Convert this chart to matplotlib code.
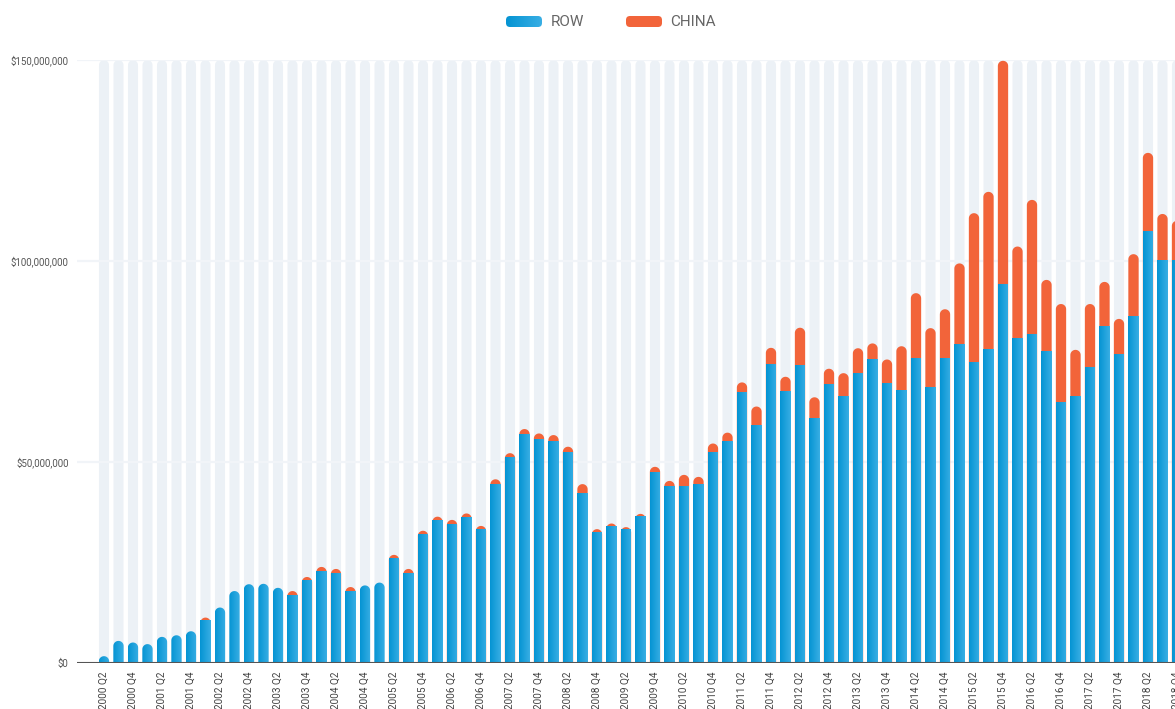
import numpy as np
import matplotlib
matplotlib.use("Agg")
import matplotlib.pyplot as plt
from matplotlib.patches import Polygon, FancyBboxPatch
from matplotlib.ticker import FuncFormatter

# quarterly values, millions of dollars
YEARS = list(range(2000, 2019))
QUARTERS = [f"{y} Q{q}" for y in YEARS for q in (1, 2, 3, 4)][1:]   # starts 2000 Q2

ROW_M = [1.7, 5.5, 5.1, 4.7, 6.5, 6.9, 7.9, 10.7, 13.8, 17.9,
         19.6, 19.7, 18.7, 16.9, 20.6, 22.9, 22.4, 17.9, 19.3, 20.0,
         26.1, 22.4, 32.1, 35.6, 34.6, 36.2, 33.3, 44.5, 51.2, 57.0,
         55.6, 55.1, 52.5, 42.2, 32.5, 34.2, 33.3, 36.6, 47.5, 44.0,
         44.0, 44.5, 52.5, 55.2, 67.5, 59.2, 74.5, 67.7, 74.1, 61.0,
         69.5, 66.4, 72.1, 75.6, 69.7, 67.9, 75.9, 68.7, 75.9, 79.4,
         74.9, 78.0, 94.3, 80.8, 81.8, 77.5, 64.9, 66.4, 73.6, 83.8,
         76.9, 86.3, 107.4, 100.2, 100.2]
CHINA_M = [0, 0, 0, 0, 0, 0, 0, 0.6, 0, 0,
           0, 0, 0, 1.0, 0.8, 1.0, 1.0, 1.0, 0, 0,
           0.8, 1.0, 0.8, 0.8, 1.0, 1.0, 0.8, 1.2, 1.0, 1.2,
           1.5, 1.6, 1.3, 2.3, 0.8, 0.5, 0.5, 0.5, 1.3, 1.3,
           2.8, 1.8, 2.1, 2.1, 2.3, 4.6, 3.9, 3.5, 9.3, 5.1,
           3.7, 5.7, 6.2, 3.9, 5.8, 10.9, 16.1, 14.6, 12.1, 20.0,
           37.0, 39.2, 55.5, 22.8, 33.4, 17.8, 24.4, 11.5, 15.7, 11.0,
           8.7, 15.4, 19.5, 11.5, 9.8]

Y_TICKS = [0, 50, 100, 150]

BLUE_L = np.array([0x05, 0x94, 0xd3]) / 255
BLUE_R = np.array([0x38, 0xae, 0xe4]) / 255
ORANGE = "#f2643a"
STRIPE = "#ecf1f6"

plt.rcParams["font.family"] = ["Roboto", "DejaVu Sans"]

W, H = 1175, 709
fig = plt.figure(figsize=(W / 100, H / 100), dpi=100)

# plot area: left edge 77px, runs past the right edge of the picture
x0_px, slot_px, c0_px = 77, 14.5, 104
right_px = 1200
ax = fig.add_axes([x0_px / W, 1 - 663 / H, (right_px - x0_px) / W, 603 / H])
xlim = ((x0_px - c0_px) / slot_px, (right_px - c0_px) / slot_px)
ax.set_xlim(*xlim)
ax.set_ylim(0, 150)

bw = 0.71
# round caps: convert half the bar width (pixels) to data units on y
px_per_x = slot_px
px_per_y = 603 / 150
ry = (bw / 2) * px_per_x / px_per_y

grad = np.linspace(0, 1, 32)[None, :, None]
grad_img = BLUE_L + (BLUE_R - BLUE_L) * grad


def capped(xc, top, w=bw, cap=ry, n=24):
    rx = w / 2
    base = max(top - cap, 0)
    h = top - base
    t = np.linspace(0, np.pi, n)
    pts = [(xc - rx, 0), (xc + rx, 0)]
    pts += list(zip(xc + rx * np.cos(t), base + h * np.sin(t)))
    return Polygon(pts, closed=True)


def rect(xc, top, w=bw):
    rx = w / 2
    return Polygon([(xc - rx, 0), (xc + rx, 0), (xc + rx, top), (xc - rx, top)],
                   closed=True)


def blue_fill(patch, xc, top):
    patch.set_facecolor("none")
    patch.set_edgecolor("none")
    ax.add_patch(patch)
    im = ax.imshow(grad_img, extent=(xc - bw / 2, xc + bw / 2, 0, top),
                   aspect="auto", interpolation="bilinear", zorder=3)
    im.set_clip_path(patch)


x = np.arange(len(QUARTERS))
for i, (r, c) in enumerate(zip(ROW_M, CHINA_M)):
    st = capped(i, 150, w=0.69)
    st.set_facecolor(STRIPE)
    st.set_edgecolor("none")
    st.set_zorder(0)
    ax.add_patch(st)
    if c > 0:
        top = capped(i, r + c)
        top.set_facecolor(ORANGE)
        top.set_edgecolor("none")
        top.set_zorder(2)
        ax.add_patch(top)
        blue_fill(rect(i, r), i, r)
    else:
        blue_fill(capped(i, r), i, r)

for yv in Y_TICKS[1:]:
    ax.axhline(yv, color="#f1f4f8", lw=1.6, zorder=1)
ax.axhline(0, color="#555555", lw=1.5, zorder=5)

ax.set_xlim(*xlim)
ax.set_ylim(0, 150)
for s in ax.spines.values():
    s.set_visible(False)

ax.set_yticks(Y_TICKS)
ax.yaxis.set_major_formatter(FuncFormatter(lambda v, p: f"${v * 1e6:,.0f}"))
ax.tick_params(axis="y", length=0, pad=6, labelsize=7, labelcolor="#555555")
ax.set_xticks(x[::2])
ax.set_xticklabels(QUARTERS[::2], rotation=90, va="top", ha="center")
ax.tick_params(axis="x", length=0, pad=6, labelsize=7.2, labelcolor="#444444")

# legend on top, drawn by hand
def swatch(left_px, color=None):
    sax = fig.add_axes([left_px / W, 1 - 27 / H, 36 / W, 11 / H])
    sax.set_xlim(0, 36)
    sax.set_ylim(0, 11)
    sax.axis("off")
    box = FancyBboxPatch((0, 0), 36, 11, boxstyle="round,pad=0,rounding_size=4",
                         facecolor=color if color else "none", edgecolor="none")
    sax.add_patch(box)
    if color is None:
        im = sax.imshow(grad_img, extent=(0, 36, 0, 11), aspect="auto",
                        interpolation="bilinear")
        im.set_clip_path(box)
        sax.set_xlim(0, 36)
        sax.set_ylim(0, 11)


swatch(506)
fig.text(551 / W, 1 - 22 / H, "ROW", fontsize=11, color="#666666", va="center")
swatch(626, ORANGE)
fig.text(670 / W, 1 - 22 / H, "CHINA", fontsize=11, color="#666666", va="center")

fig.savefig("out.png", dpi=100)
